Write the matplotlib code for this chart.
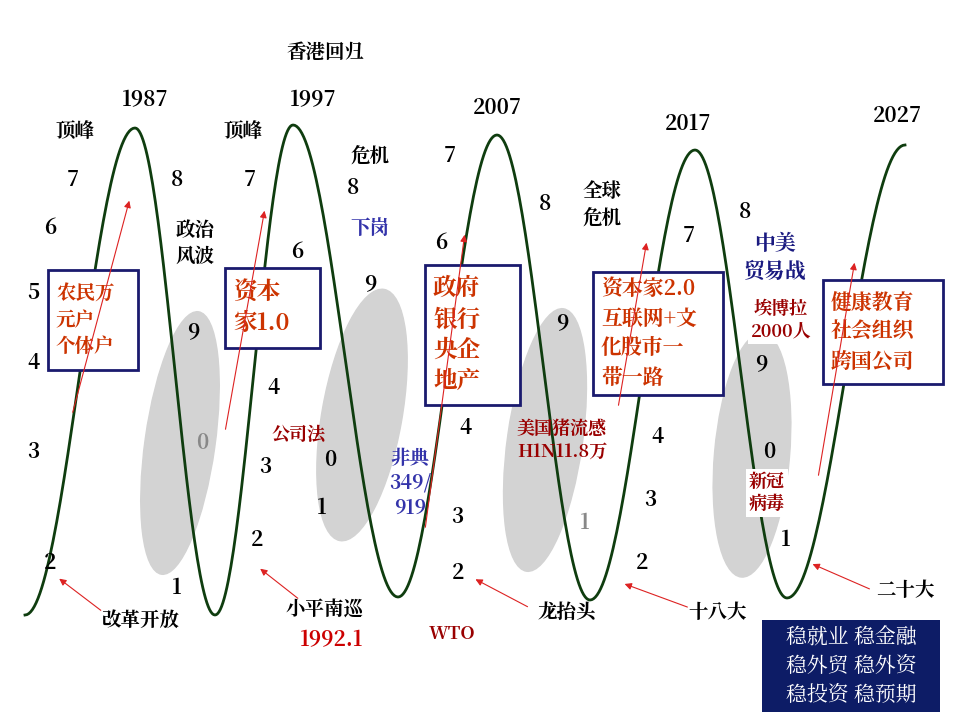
import numpy as np
import matplotlib
matplotlib.use("Agg")
import matplotlib.pyplot as plt
from matplotlib import font_manager as fm
from matplotlib.patches import Ellipse, Rectangle

cjk = [f.name for f in fm.fontManager.ttflist if 'CJK' in f.name]
pref = [n for n in cjk if n.endswith('SC')] or cjk
plt.rcParams['font.family'] = 'sans-serif'
plt.rcParams['font.sans-serif'] = (pref[:1] if pref else []) + ['DejaVu Sans']

# extreme points of the wave (pixel-space)
ext_x = [25, 135, 215, 293, 398, 497, 590, 695, 787, 905]
ext_y = [615, 128, 615, 125, 597, 135, 600, 150, 598, 145]
years = ["1987", "1997", "2007", "2017", "2027"]
year_pos = [(145, 100), (313, 100), (497, 108), (688, 124), (897, 116)]

fig = plt.figure(figsize=(9.6, 7.2), dpi=100)
ax = fig.add_axes([0, 0, 1, 1])
ax.set_xlim(0, 960); ax.set_ylim(720, 0); ax.axis('off')

xs, ys = [], []
for i in range(len(ext_x) - 1):
    t = np.linspace(0, 1, 60)
    xs.append(ext_x[i] + (ext_x[i+1] - ext_x[i]) * t)
    ys.append(ext_y[i] + (ext_y[i+1] - ext_y[i]) * (1 - np.cos(np.pi * t)) / 2)
ax.plot(np.concatenate(xs), np.concatenate(ys), color='#0f3d0f', lw=2, zorder=3)

for (cx, cy, w, h, a) in [(180, 443, 70, 265, 8), (362, 415, 80, 255, 10),
                          (545, 440, 75, 265, 8), (752, 455, 75, 245, 5)]:
    ax.add_patch(Ellipse((cx, cy), w, h, angle=a, color='#d3d3d3', zorder=1))

for y, (x, yy) in zip(years, year_pos):
    ax.text(x, yy, y, ha='center', va='center', fontsize=15, fontweight='bold')
ax.text(325, 52, "香港回归", ha='center', va='center', fontsize=14, fontweight='bold')

black = [("顶峰", 75, 132), ("7", 73, 180), ("6", 50, 228), ("5", 33, 293), ("4", 33, 363),
         ("3", 33, 452), ("2", 50, 563), ("1", 177, 588), ("8", 177, 180), ("9", 193, 332),
         ("顶峰", 243, 132), ("7", 250, 180), ("6", 297, 252), ("4", 273, 388), ("3", 265, 467),
         ("2", 257, 540), ("1", 322, 508), ("0", 330, 460), ("9", 370, 284), ("8", 353, 188),
         ("危机", 370, 156), ("7", 450, 156), ("6", 441, 243), ("4", 465, 428), ("3", 457, 517),
         ("2", 458, 573), ("8", 545, 204), ("9", 562, 323), ("全球\n危机", 602, 205),
         ("7", 689, 236), ("4", 657, 437), ("3", 650, 500), ("2", 642, 563), ("8", 745, 212),
         ("9", 761, 364), ("0", 769, 452), ("1", 786, 540), ("政治\n风波", 195, 243),
         ("改革开放", 140, 620), ("小平南巡", 325, 610), ("龙抬头", 567, 612),
         ("十八大", 718, 612), ("二十大", 905, 590)]
for s, x, y in black:
    ax.text(x, y, s, ha='center', va='center', fontsize=15 if len(s) == 1 else 14,
            fontweight='bold', linespacing=1.3)
ax.text(202, 443, "0", ha='center', va='center', fontsize=15, fontweight='bold', color='#888888')
ax.text(585, 523, "1", ha='center', va='center', fontsize=15, fontweight='bold', color='#888888')

red = '#990000'
ax.text(332, 640, "1992.1", ha='center', va='center', fontsize=15, fontweight='bold', color='#cc0000')
ax.text(452, 634, "WTO", ha='center', va='center', fontsize=13, fontweight='bold', color=red)
ax.text(298, 435, "公司法", ha='center', va='center', fontsize=13, fontweight='bold', color=red)
ax.text(562, 440, "美国猪流感\nH1N11.8万", ha='center', va='center', fontsize=13, fontweight='bold', color=red)
ax.text(781, 320, "埃博拉\n2000人", ha='center', va='center', fontsize=13, fontweight='bold', color=red,
        bbox=dict(fc='white', ec='none', pad=2), zorder=5)
ax.text(767, 493, "新冠\n病毒", ha='center', va='center', fontsize=13, fontweight='bold', color=red,
        bbox=dict(fc='white', ec='none', pad=2), zorder=5)
blue = '#3333aa'
ax.text(370, 228, "下岗", ha='center', va='center', fontsize=14, fontweight='bold', color=blue)
ax.text(410, 483, "非典\n349/\n919", ha='center', va='center', fontsize=14, fontweight='bold', color=blue, linespacing=1.2)
ax.text(775, 258, "中美\n贸易战", ha='center', va='center', fontsize=15, fontweight='bold', color='#1a1a80')

boxes = [(48, 270, 90, 100, "农民万\n元户\n个体户", 14),
         (225, 268, 95, 80, "资本\n家1.0", 17),
         (425, 265, 95, 140, "政府\n银行\n央企\n地产", 17),
         (593, 272, 130, 123, "资本家2.0\n互联网+文\n化股市一\n带一路", 15),
         (823, 280, 120, 104, "健康教育\n社会组织\n跨国公司", 15)]
for x, y, w, h, s, fs in boxes:
    ax.add_patch(Rectangle((x, y), w, h, fill=True, fc='white', ec='#1a1a6e', lw=2, zorder=4))
    ax.text(x + 8, y + h / 2, s, ha='left', va='center', fontsize=fs, fontweight='bold',
            color='#cc3300', zorder=5, linespacing=1.3)

ax.add_patch(Rectangle((762, 620), 178, 92, fc='#0d1c66', ec='none', zorder=4))
ax.text(851, 666, "稳就业 稳金融\n稳外贸 稳外资\n稳投资 稳预期", ha='center', va='center',
        fontsize=15, color='white', zorder=5, linespacing=1.4)

arrows = [((72, 415), (130, 198)), ((225, 432), (265, 208)), ((425, 530), (465, 232)),
          ((618, 408), (647, 240)), ((818, 478), (855, 260)),
          ((103, 612), (57, 577)), ((300, 600), (258, 567)), ((530, 608), (473, 578)),
          ((690, 608), (622, 583)), ((872, 590), (810, 563))]
for (x0, y0), (x1, y1) in arrows:
    ax.annotate("", xy=(x1, y1), xytext=(x0, y0),
                arrowprops=dict(arrowstyle='-|>', color='#dd2222', lw=0.8, mutation_scale=10), zorder=6)

fig.savefig("out.png", dpi=100, facecolor='white')
